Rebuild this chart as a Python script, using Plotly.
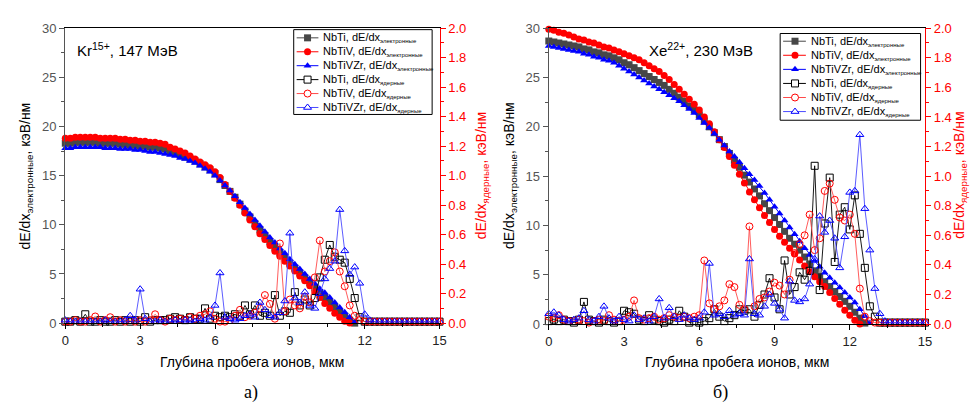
import plotly.graph_objects as go

# ---------------- DATA ----------------
depth_e = [0.0, 0.2, 0.4, 0.6, 0.8, 1.0, 1.2, 1.4, 1.6, 1.8,
           2.0, 2.2, 2.4, 2.6, 2.8, 3.0, 3.2, 3.4, 3.6, 3.8,
           4.0, 4.2, 4.4, 4.6, 4.8, 5.0, 5.2, 5.4, 5.6, 5.8,
           6.0, 6.2, 6.4, 6.6, 6.8, 7.0, 7.2, 7.4, 7.6, 7.8,
           8.0, 8.2, 8.4, 8.6, 8.8, 9.0, 9.2, 9.4, 9.6, 9.8,
           10.0, 10.2, 10.4, 10.6, 10.8, 11.0, 11.2, 11.4, 11.6, 11.8,
           12.0, 12.2, 12.4, 12.6, 12.8]

depth_n = [0.0, 0.2, 0.4, 0.6, 0.8, 1.0, 1.2, 1.4, 1.6, 1.8,
           2.0, 2.2, 2.4, 2.6, 2.8, 3.0, 3.2, 3.4, 3.6, 3.8,
           4.0, 4.2, 4.4, 4.6, 4.8, 5.0, 5.2, 5.4, 5.6, 5.8,
           6.0, 6.2, 6.4, 6.6, 6.8, 7.0, 7.2, 7.4, 7.6, 7.8,
           8.0, 8.2, 8.4, 8.6, 8.8, 9.0, 9.2, 9.4, 9.6, 9.8,
           10.0, 10.2, 10.4, 10.6, 10.8, 11.0, 11.2, 11.4, 11.6, 11.8,
           12.0, 12.2, 12.4, 12.6, 12.8, 13.0, 13.2, 13.4, 13.6, 13.8,
           14.0, 14.2, 14.4, 14.6, 14.8, 15.0]

# Kr15+, 147 MeV : electronic stopping, keV/nm
kr_e_nbti = [18.3, 18.3, 18.4, 18.4, 18.4, 18.4, 18.4, 18.3, 18.3, 18.3,
             18.3, 18.2, 18.2, 18.1, 18.1, 18.0, 18.0, 17.9, 17.9, 17.8,
             17.7, 17.5, 17.3, 17.1, 16.9, 16.7, 16.5, 16.2, 15.9, 15.6,
             15.2, 14.6, 14.0, 13.4, 12.8, 12.1, 11.4, 10.8, 10.1, 9.5,
             8.9, 8.3, 7.7, 7.2, 6.7, 6.1, 5.6, 5.1, 4.6, 4.1,
             3.6, 3.1, 2.6, 2.1, 1.6, 1.1, 0.7, 0.3, 0.0]
kr_e_nbtiv = [18.8, 18.8, 18.9, 18.9, 18.9, 18.9, 18.9, 18.8, 18.8, 18.8,
              18.8, 18.7, 18.7, 18.6, 18.6, 18.5, 18.5, 18.4, 18.4, 18.3,
              18.2, 17.9, 17.7, 17.5, 17.3, 17.0, 16.7, 16.4, 16.1, 15.8,
              15.4, 14.8, 14.1, 13.4, 12.7, 12.0, 11.2, 10.5, 9.8, 9.1,
              8.5, 7.9, 7.3, 6.8, 6.3, 5.8, 5.3, 4.8, 4.3, 3.8,
              3.2, 2.6, 2.0, 1.5, 1.0, 0.6, 0.2, 0.0]
kr_e_nbtivzr = [17.8, 17.8, 17.9, 17.9, 17.9, 17.9, 17.9, 17.9, 17.8, 17.8,
                17.8, 17.7, 17.7, 17.7, 17.6, 17.6, 17.5, 17.4, 17.4, 17.3,
                17.2, 17.1, 17.0, 16.8, 16.7, 16.5, 16.3, 16.0, 15.7, 15.4,
                15.0, 14.5, 14.0, 13.5, 12.9, 12.3, 11.7, 11.1, 10.5, 9.9,
                9.3, 8.7, 8.2, 7.6, 7.1, 6.5, 6.0, 5.5, 5.0, 4.5,
                4.0, 3.5, 3.1, 2.6, 2.1, 1.6, 1.1, 0.6, 0.1]

# Kr15+ : nuclear stopping, keV/nm
kr_n_nbti = [0.01, 0.01, 0.02, 0.01, 0.06, 0.01, 0.01, 0.02, 0.01, 0.01,
             0.02, 0.01, 0.02, 0.01, 0.02, 0.01, 0.04, 0.01, 0.02, 0.02,
             0.02, 0.03, 0.04, 0.03, 0.02, 0.04, 0.03, 0.03, 0.10, 0.03,
             0.05, 0.04, 0.05, 0.04, 0.06, 0.05, 0.12, 0.06, 0.12, 0.05,
             0.07, 0.05, 0.19, 0.05, 0.08, 0.07, 0.21, 0.12, 0.16, 0.12,
             0.17, 0.31, 0.43, 0.53, 0.45, 0.43, 0.41, 0.30, 0.17, 0.04,
             0.01, 0.01, 0.01, 0.01, 0.01, 0.01, 0.01, 0.01, 0.01, 0.01,
             0.01, 0.01, 0.01, 0.01, 0.01, 0.01]
kr_n_nbtiv = [0.01, 0.01, 0.02, 0.01, 0.01, 0.02, 0.045, 0.01, 0.02, 0.04,
              0.01, 0.02, 0.01, 0.02, 0.01, 0.02, 0.01, 0.02, 0.06, 0.02,
              0.01, 0.03, 0.02, 0.03, 0.02, 0.04, 0.03, 0.05, 0.06, 0.08,
              0.03, 0.01, 0.01, 0.02, 0.05, 0.09, 0.04, 0.05, 0.07, 0.10,
              0.19, 0.13, 0.03, 0.54, 0.08, 0.16, 0.12, 0.10, 0.18, 0.14,
              0.31, 0.56, 0.35, 0.42, 0.48, 0.35, 0.25, 0.12, 0.05, 0.02,
              0.01, 0.01, 0.01, 0.01, 0.01, 0.01, 0.01, 0.01, 0.01, 0.01,
              0.01, 0.01, 0.01, 0.01, 0.01, 0.01]
kr_n_nbtivzr = [0.02, 0.01, 0.01, 0.01, 0.01, 0.01, 0.01, 0.01, 0.02, 0.01,
                0.01, 0.01, 0.02, 0.05, 0.02, 0.23, 0.03, 0.01, 0.01, 0.02,
                0.01, 0.01, 0.02, 0.01, 0.02, 0.02, 0.01, 0.03, 0.02, 0.04,
                0.12, 0.34, 0.04, 0.03, 0.02, 0.03, 0.05, 0.06, 0.04, 0.14,
                0.09, 0.05, 0.04, 0.07, 0.15, 0.61, 0.17, 0.14, 0.21, 0.12,
                0.10, 0.20, 0.30, 0.37, 0.42, 0.77, 0.49, 0.33, 0.38, 0.27,
                0.06, 0.02, 0.01, 0.01, 0.01, 0.01, 0.01, 0.01, 0.01, 0.01,
                0.01, 0.01, 0.01, 0.01, 0.01, 0.01]

# Xe22+, 230 MeV : electronic stopping, keV/nm
xe_e_nbti = [28.7, 28.6, 28.5, 28.4, 28.3, 28.2, 28.1, 27.9, 27.8, 27.6,
             27.5, 27.3, 27.2, 27.0, 26.8, 26.5, 26.3, 26.0, 25.7, 25.4,
             25.1, 24.8, 24.5, 24.2, 23.8, 23.4, 23.0, 22.6, 22.1, 21.7,
             21.2, 20.6, 20.0, 19.4, 18.7, 18.0, 17.3, 16.6, 15.9, 15.1,
             14.4, 13.7, 13.0, 12.2, 11.5, 10.8, 10.1, 9.4, 8.7, 8.1,
             7.5, 6.8, 6.1, 5.4, 4.8, 4.3, 3.8, 3.3, 2.8, 2.3,
             1.8, 1.2, 0.6, 0.1]
xe_e_nbtiv = [29.9, 29.8, 29.6, 29.5, 29.3, 29.1, 28.9, 28.8, 28.6, 28.5,
              28.3, 28.1, 28.0, 27.8, 27.6, 27.4, 27.2, 27.0, 26.8, 26.5,
              26.2, 25.9, 25.6, 25.2, 24.8, 24.3, 23.8, 23.3, 22.8, 22.3,
              21.7, 21.0, 20.3, 19.5, 18.7, 17.9, 17.0, 16.1, 15.2, 14.3,
              13.4, 12.6, 11.8, 11.0, 10.3, 9.6, 8.9, 8.3, 7.7, 7.1,
              6.5, 5.9, 5.3, 4.8, 4.3, 3.8, 3.2, 2.6, 2.0, 1.4,
              0.9, 0.4, 0.0]
xe_e_nbtivzr = [28.2, 28.1, 28.0, 27.9, 27.8, 27.7, 27.6, 27.4, 27.3, 27.1,
                27.0, 26.8, 26.7, 26.5, 26.2, 25.9, 25.6, 25.3, 25.0, 24.7,
                24.4, 24.1, 23.8, 23.5, 23.2, 22.9, 22.6, 22.2, 21.8, 21.4,
                20.9, 20.4, 19.9, 19.3, 18.7, 18.1, 17.5, 17.0, 16.4, 15.8,
                15.2, 14.6, 14.0, 13.3, 12.6, 11.9, 11.2, 10.5, 9.8, 9.1,
                8.4, 7.7, 7.0, 6.4, 5.8, 5.2, 4.7, 4.2, 3.7, 3.2,
                2.7, 2.2, 1.5, 0.8, 0.1]

# Xe22+ : nuclear stopping, keV/nm
xe_n_nbti = [0.02, 0.03, 0.02, 0.03, 0.02, 0.01, 0.03, 0.15, 0.03, 0.02,
             0.01, 0.03, 0.02, 0.01, 0.02, 0.09, 0.08, 0.07, 0.03, 0.02,
             0.06, 0.03, 0.02, 0.01, 0.03, 0.02, 0.09, 0.05, 0.01, 0.02,
             0.01, 0.02, 0.04, 0.10, 0.05, 0.02, 0.04, 0.06, 0.10, 0.09,
             0.10, 0.05, 0.13, 0.20, 0.31, 0.18, 0.10, 0.43, 0.20, 0.25,
             0.35, 0.30, 0.36, 1.07, 0.23, 0.68, 0.99, 0.42, 0.74, 0.79,
             0.64, 0.87, 0.61, 0.38, 0.12, 0.05, 0.01, 0.01, 0.01, 0.01,
             0.01, 0.01, 0.01, 0.01, 0.01, 0.01]
xe_n_nbtiv = [0.05, 0.04, 0.06, 0.03, 0.02, 0.02, 0.03, 0.02, 0.01, 0.02,
              0.03, 0.02, 0.06, 0.03, 0.02, 0.03, 0.05, 0.16, 0.04, 0.03,
              0.04, 0.05, 0.03, 0.04, 0.06, 0.05, 0.04, 0.05, 0.04, 0.05,
              0.06, 0.43, 0.14, 0.10, 0.12, 0.16, 0.27, 0.25, 0.13, 0.10,
              0.66, 0.12, 0.17, 0.18, 0.22, 0.28, 0.26, 0.20, 0.30, 0.48,
              0.54, 0.60, 0.74, 0.50, 0.58, 0.90, 0.95, 0.84, 0.72, 0.70,
              0.74, 0.61, 0.24, 0.05, 0.02, 0.01, 0.01, 0.01, 0.01, 0.01,
              0.01, 0.01, 0.01, 0.01, 0.01, 0.01]
xe_n_nbtivzr = [0.07, 0.08, 0.06, 0.03, 0.02, 0.03, 0.04, 0.09, 0.03, 0.02,
                0.05, 0.12, 0.04, 0.02, 0.05, 0.03, 0.02, 0.06, 0.03, 0.04,
                0.02, 0.05, 0.17, 0.04, 0.11, 0.05, 0.03, 0.06, 0.04, 0.03,
                0.04, 0.08, 0.41, 0.06, 0.07, 0.05, 0.09, 0.06, 0.07, 0.06,
                0.44, 0.07, 0.06, 0.12, 0.20, 0.14, 0.10, 0.04, 0.29, 0.16,
                0.15, 0.17, 0.27, 0.44, 0.73, 0.62, 0.70, 0.58, 0.38, 0.59,
                0.89, 0.90, 1.28, 0.78, 0.50, 0.24, 0.07, 0.02, 0.01, 0.01,
                0.01, 0.01, 0.01, 0.01, 0.01, 0.01]

alloys = ["NbTi", "NbTiV", "NbTiVZr"]
x_ticks = [0, 3, 6, 9, 12, 15]

# ---------------- STYLE ----------------
W, H = 978, 414
FONT = "Arial, 'Liberation Sans', sans-serif"
SERIF = "'Times New Roman', 'Liberation Serif', serif"

e_style = {
    "NbTi": dict(sym="square", color="#474747", line="#474747"),
    "NbTiV": dict(sym="circle", color="#ff0000", line="#ff0000"),
    "NbTiVZr": dict(sym="triangle-up", color="#0000ff", line="#0000ff"),
}
n_style = {
    "NbTi": dict(sym="square-open", color="#000000", line="#000000"),
    "NbTiV": dict(sym="circle-open", color="#ff0000", line="#ff4a4a"),
    "NbTiVZr": dict(sym="triangle-up-open", color="#0000ff", line="#4a4aff"),
}

fig = go.Figure()


def add_panel(xa, ya, ya2, e_series, n_series):
    for name, vals in zip(alloys, e_series):
        st = e_style[name]
        fig.add_trace(go.Scatter(
            x=depth_e[:len(vals)], y=vals, mode="lines+markers",
            marker=dict(symbol=st["sym"], size=7, color=st["color"],
                        line=dict(width=0)),
            line=dict(color=st["line"], width=1),
            xaxis=xa, yaxis=ya, cliponaxis=False, showlegend=False,
            name=name))
    for name, vals in zip(alloys, n_series):
        st = n_style[name]
        fig.add_trace(go.Scatter(
            x=depth_n[:len(vals)], y=vals, mode="lines+markers",
            marker=dict(symbol=st["sym"], size=7, color=st["color"],
                        line=dict(width=1, color=st["color"])),
            line=dict(color=st["line"], width=0.9),
            xaxis=xa, yaxis=ya2, cliponaxis=False, showlegend=False,
            name=name))


add_panel("x", "y", "y2",
          [kr_e_nbti, kr_e_nbtiv, kr_e_nbtivzr],
          [kr_n_nbti, kr_n_nbtiv, kr_n_nbtivzr])
add_panel("x2", "y3", "y4",
          [xe_e_nbti, xe_e_nbtiv, xe_e_nbtivzr],
          [xe_n_nbti, xe_n_nbtiv, xe_n_nbtivzr])


def px_x(p):
    return p / W


def px_y(p):
    return (H - p) / H


def x_axis(dom, anchor):
    return dict(domain=dom, range=[0, 15], anchor=anchor,
                tickmode="array", tickvals=x_ticks,
                ticks="outside", ticklen=5, tickcolor="#000", tickwidth=1,
                minor=dict(ticks="outside", ticklen=3, tickcolor="#000",
                           tickmode="linear", tick0=0, dtick=1.5),
                showline=True, linecolor="#000", linewidth=1, mirror=True,
                showgrid=False, zeroline=False,
                tickfont=dict(family=FONT, size=13, color="#222"))


def y_axis(dom, anchor):
    return dict(domain=dom, range=[0, 30], anchor=anchor,
                tickmode="linear", tick0=0, dtick=5,
                ticks="outside", ticklen=5, tickcolor="#555", tickwidth=1,
                minor=dict(ticks="outside", ticklen=3, tickcolor="#555",
                           tickmode="linear", tick0=0, dtick=2.5),
                showline=True, linecolor="#555", linewidth=1.3,
                showgrid=False, zeroline=False,
                tickfont=dict(family=FONT, size=13, color="#555"))


def y2_axis(over, anchor):
    return dict(overlaying=over, side="right", anchor=anchor, range=[0, 2],
                tickmode="linear", tick0=0, dtick=0.2, tickformat=".1f",
                ticks="outside", ticklen=5, tickcolor="#ff0000", tickwidth=1,
                minor=dict(ticks="outside", ticklen=3, tickcolor="#ff0000",
                           tickmode="linear", tick0=0, dtick=0.1),
                showline=True, linecolor="#ff0000", linewidth=1.3,
                showgrid=False, zeroline=False,
                tickfont=dict(family=FONT, size=13, color="#ff0000"))


left_dom_x = [px_x(62), px_x(440.5)]
right_dom_x = [px_x(551), px_x(931.5)]
left_dom_y = [px_y(328), px_y(22)]
right_dom_y = [px_y(329), px_y(22)]

layout = dict(
    width=W, height=H, autosize=False,
    margin=dict(l=0, r=0, t=0, b=0),
    paper_bgcolor="white", plot_bgcolor="rgba(0,0,0,0)",
    showlegend=False,
    xaxis=x_axis(left_dom_x, "y"),
    yaxis=y_axis(left_dom_y, "x"),
    yaxis2=y2_axis("y", "x"),
    xaxis2=x_axis(right_dom_x, "y3"),
    yaxis3=y_axis(right_dom_y, "x2"),
    yaxis4=y2_axis("y3", "x2"),
    # pixel overlay used only for the custom legends
    xaxis3=dict(domain=[0, 1], range=[0, W], visible=False, anchor="y5",
                fixedrange=True),
    yaxis5=dict(domain=[0, 1], range=[H, 0], visible=False, anchor="x3",
                fixedrange=True),
)
fig.update_layout(**layout)

annotations = []
shapes = []


def add_text(text, x, y, size=14, color="#000", angle=0, xanchor="center",
             family=FONT):
    annotations.append(dict(
        text=text, x=px_x(x), y=px_y(y), xref="paper", yref="paper",
        showarrow=False, xanchor=xanchor, yanchor="middle",
        textangle=angle, font=dict(family=family, size=size, color=color)))


e_title = "dE/dx<sub>электронные</sub>, кэВ/нм"
n_title = "dE/dx<sub>ядерные</sub>, кэВ/нм"
x_title = "Глубина пробега ионов, мкм"

add_text(e_title, 22, 175, angle=-90)
add_text(n_title, 483, 175, color="#ff0000", angle=-90)
add_text(e_title, 511, 175, angle=-90)
add_text(n_title, 967, 175, color="#ff0000", angle=-90)
add_text(x_title, 251, 368)
add_text(x_title, 741, 368)
add_text("а)", 250, 400, size=18, family=SERIF)
add_text("б)", 725, 400, size=18, family=SERIF)
add_text("Kr<sup>15+</sup>, 147 МэВ", 72, 44, size=15, xanchor="left")
add_text("Xe<sup>22+</sup>, 230 МэВ", 650, 44, size=15, xanchor="left")


def add_legend(box, row0, dy, line_x, mark_x, text_x):
    shapes.append(dict(type="rect", xref="paper", yref="paper",
                       x0=px_x(box[0]), x1=px_x(box[1]),
                       y0=px_y(box[3]), y1=px_y(box[2]),
                       line=dict(color="#000", width=1), fillcolor="rgba(0,0,0,0)",
                       layer="above"))
    entries = [(a, "электронные", e_style[a], True) for a in alloys] + \
              [(a, "ядерные", n_style[a], False) for a in alloys]
    for i, (name, sub, st, filled) in enumerate(entries):
        yy = row0 + dy * i
        fig.add_trace(go.Scatter(
            x=[line_x[0], line_x[1]], y=[yy, yy], mode="lines",
            line=dict(color=st["line"], width=1),
            xaxis="x3", yaxis="y5", showlegend=False, hoverinfo="skip"))
        sym = st["sym"].replace("-open", "")
        fig.add_trace(go.Scatter(
            x=[mark_x], y=[yy], mode="markers",
            marker=dict(symbol=sym, size=7,
                        color=st["color"] if filled else "white",
                        line=dict(width=0 if filled else 1, color=st["color"])),
            xaxis="x3", yaxis="y5", showlegend=False, hoverinfo="skip"))
        txt = (f"{name}, dE/dx<sub><span style='font-size:6px'>{sub}</span></sub>")
        annotations.append(dict(
            text=txt, x=px_x(text_x), y=px_y(yy), xref="paper", yref="paper",
            showarrow=False, xanchor="left", yanchor="middle",
            font=dict(family=FONT, size=11, color="#000")))


add_legend((293, 433, 23.5, 111.5), 32.0, 14.45, (296, 318), 307, 321)
add_legend((785, 927, 27.5, 117.5), 35.5, 14.6, (788, 811), 800, 814)

fig.update_layout(annotations=annotations, shapes=shapes)

fig.write_html(
    "out.html",
    config={"displayModeBar": False},
    post_script="document.body.style.margin='0';"
                "document.body.style.overflow='hidden';")
